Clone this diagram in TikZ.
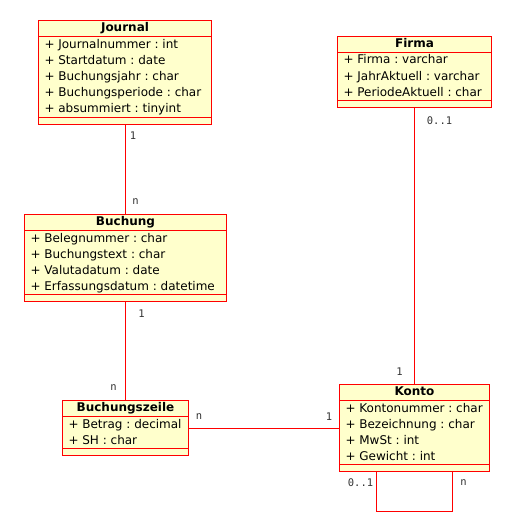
\documentclass[tikz,border=0pt]{standalone}
\usepackage{fontspec}
\setmainfont{DejaVu Sans}
\newfontfamily\multfont{DejaVu Sans Mono}
\usetikzlibrary{shapes.multipart,calc}
\definecolor{classfill}{HTML}{FFFFCC}
\definecolor{multgray}{HTML}{333333}
\newcommand{\rowstrut}{\rule[-5pt]{0pt}{16pt}}
% one attribute row, 16pt high
\newcommand{\attr}[1]{\hbox{\rowstrut+ #1}}
\newcommand{\classname}[1]{\rule[-4.5pt]{0pt}{15pt}\textbf{#1}}

\begin{document}
\begin{tikzpicture}[x=1pt,y=-1pt,
    umlclass/.style={rectangle split,rectangle split parts=3,draw=red,fill=classfill,
      line width=1pt,anchor=north west,inner xsep=6pt,inner ysep=0pt,
      rectangle split part align={center,left,left},
      font=\fontsize{12}{16}\selectfont\frenchspacing},
    mult/.style={text=multgray,inner sep=0pt,font=\multfont\fontsize{10.5}{12}\selectfont},
    assoc/.style={draw=red,line width=1pt}]
      \useasboundingbox (0,0) rectangle (515,532);
      % classes, top left corner at pixel coordinates
      \node[umlclass,minimum width=173pt] (journal) at (38,20.5) {\classname{Journal}
        \nodepart{second}\vbox{\attr{Journalnummer : int}\attr{Startdatum : date}
          \attr{Buchungsjahr : char}\attr{Buchungsperiode : char}\attr{absummiert : tinyint}\kern-1pt}
        \nodepart{third}\rule{0pt}{6pt}};
      \node[umlclass,minimum width=154pt] (firma) at (337,36) {\classname{Firma}
        \nodepart{second}\vbox{\attr{Firma : varchar}\attr{JahrAktuell : varchar}
          \attr{PeriodeAktuell : char}\kern-1pt}
        \nodepart{third}\rule{0pt}{6pt}};
      \node[umlclass,minimum width=202pt] (buchung) at (24,214) {\classname{Buchung}
        \nodepart{second}\vbox{\attr{Belegnummer : char}\attr{Buchungstext : char}
          \attr{Valutadatum : date}\attr{Erfassungsdatum : datetime}\kern-1pt}
        \nodepart{third}\rule{0pt}{6pt}};
      \node[umlclass,minimum width=126pt] (bzeile) at (62,400) {\classname{Buchungszeile}
        \nodepart{second}\vbox{\attr{Betrag : decimal}\attr{SH : char}\kern-1pt}
        \nodepart{third}\rule{0pt}{6pt}};
      \node[umlclass,minimum width=150pt] (konto) at (339,384) {\classname{Konto}
        \nodepart{second}\vbox{\attr{Kontonummer : char}\attr{Bezeichnung : char}
          \attr{MwSt : int}\attr{Gewicht : int}\kern-1pt}
        \nodepart{third}\rule{0pt}{6pt}};
      % associations
      \draw[assoc] (journal.south) -- (journal.south |- buchung.north);
      \draw[assoc] (buchung.south) -- (buchung.south |- bzeile.north);
      \draw[assoc] (bzeile.east) -- (bzeile.east -| konto.west);
      \draw[assoc] (firma.south) -- (firma.south |- konto.north);
      \coordinate (loopl) at ($(konto.south)+(-38,0)$);
      \coordinate (loopr) at ($(konto.south)+(38,0)$);
      \draw[assoc] (loopl) -- ++(0,39) -| (loopr);
      % multiplicities
      \node[mult] (mj) at ($(journal.south)+(8,11.5)$) {1};
      \node[mult] (mb1) at ($(buchung.north)+(10,-12)$) {n};
      \node[mult] (mb2) at ($(buchung.south)+(16,12)$) {1};
      \node[mult] (mz1) at ($(bzeile.north)+(-12,-12)$) {n};
      \node[mult] (mz2) at ($(bzeile.east)+(10,-11.5)$) {n};
      \node[mult] (mk1) at ($(konto.west)+(-10,-11.5)$) {1};
      \node[mult] (mf) at ($(firma.south)+(25,13)$) {0..1};
      \node[mult] (mk2) at ($(konto.north)+(-15,-12)$) {1};
      \node[mult] (mk3) at ($(konto.south)+(-54,10.5)$) {0..1};
      \node[mult] (mk4) at ($(konto.south)+(49,10.5)$) {n};
    \end{tikzpicture}
\end{document}
